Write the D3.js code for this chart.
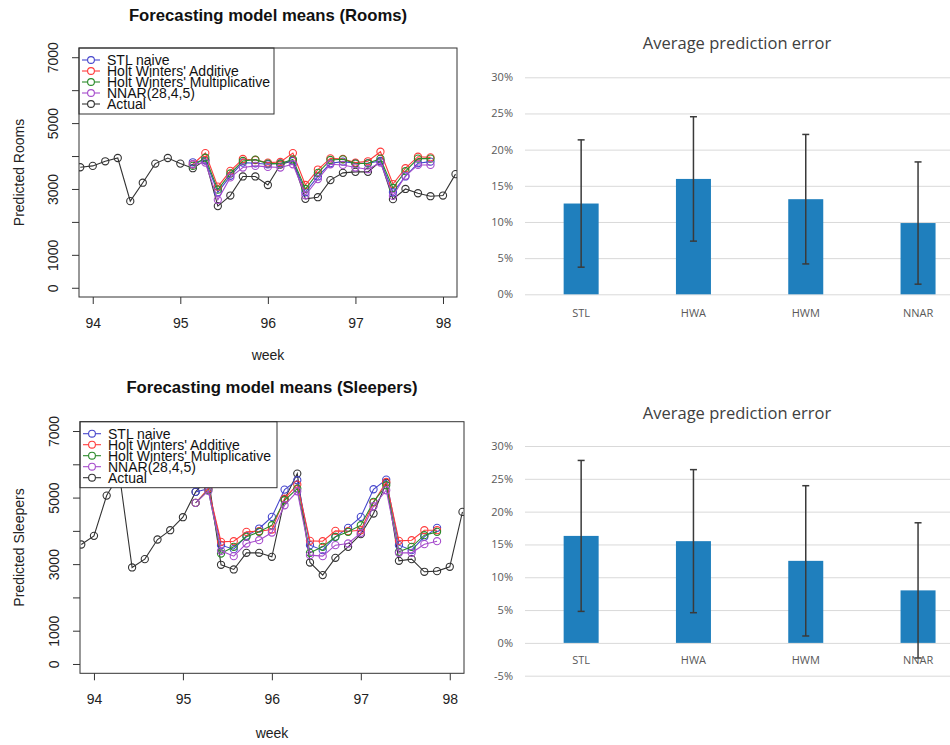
<!DOCTYPE html>
<html><head><meta charset="utf-8">
<script src="https://cdn.jsdelivr.net/npm/d3@7"></script>
<style>body{margin:0;background:#fff} svg{display:block}</style>
</head><body>
<svg id="c" width="950" height="745"></svg>
<script>
// ---------- data ----------
const firstDay = 93 + 6/7;          // week value of first daily observation
const forecastOffset = 9;           // forecasts start at 9th day after first
const weekTicks = [94, 95, 96, 97, 98];
const valueTicks = [0, 1000, 2000, 3000, 4000, 5000, 6000, 7000];
const valueTickLabels = [0, 1000, 3000, 5000, 7000];
const seriesNames = ["STL naive", "Holt Winters' Additive", "Holt Winters' Multiplicative", "NNAR(28,4,5)", "Actual"];

const roomsActual = [3660,3700,3840,3940,2630,3190,3770,3940,3770,3630,3870,2480,2800,3380,3380,3120,3740,3860,2700,2750,3270,3490,3520,3520,3840,2690,3000,2870,2780,2800,3450];
const roomsSTL  = [3810,3870,2900,3400,3800,3780,3750,3780,3850,2900,3380,3780,3830,3780,3780,3850,2900,3380,3780,3830];
const roomsHWA  = [3750,4090,3070,3550,3910,3880,3800,3820,4090,3120,3590,3930,3910,3800,3840,4130,3150,3630,3980,3960];
const roomsHWM  = [3700,3950,2980,3470,3850,3890,3770,3770,3900,3000,3490,3880,3900,3770,3780,3920,3030,3540,3920,3920];
const roomsNNAR = [3750,3800,2670,3350,3650,3700,3670,3650,3750,2810,3300,3750,3730,3650,3600,3800,2790,3400,3730,3730];

const sleepersActual = [3590,3850,5060,5700,2900,3150,3740,4020,4410,5170,5600,2980,2840,3340,3340,3220,4950,5720,3050,2670,3190,3520,3900,4520,5440,3100,3150,2770,2790,2920,4570];
const sleepersSTL  = [5170,5270,3570,3450,3850,4070,4420,5240,5520,3570,3420,3820,4090,4420,5250,5540,3570,3420,3820,4090];
const sleepersHWA  = [4840,5270,3670,3690,3970,3990,4040,4970,5390,3700,3690,4000,3990,4020,4850,5470,3700,3720,4020,4020];
const sleepersHWM  = [4840,5220,3320,3520,3820,3970,4170,4920,5270,3340,3520,3820,3970,4170,4870,5370,3370,3520,3870,3970];
const sleepersNNAR = [4840,5200,3400,3240,3620,3720,3950,4770,5190,3270,3240,3570,3620,3940,4740,5220,3340,3340,3600,3690];

const models = ["STL", "HWA", "HWM", "NNAR"];
const roomsErrMean = [12.55, 15.95, 13.15, 9.85];
const roomsErrSd   = [8.8, 8.6, 8.95, 8.45];
const sleepersErrMean = [16.3, 15.5, 12.5, 8.0];
const sleepersErrSd   = [11.5, 10.9, 11.45, 10.3];
const pctTicksRooms = [0, 5, 10, 15, 20, 25, 30];
const pctTicksSleepers = [-5, 0, 5, 10, 15, 20, 25, 30];

// ---------- styles ----------
const colors = ["#4646cc", "#ff3b3b", "#2a8a2a", "#a64ccc", "#333333"];
const svg = d3.select("#c");
const RFONT = "'Liberation Sans', Arial, sans-serif";
const XFONT = "'Open Sans', 'Noto Sans', sans-serif";

function drawR(cfg) {
  const g = svg.append("g");
  const x = d3.scaleLinear().domain([93.843, 98.16]).range([cfg.left, cfg.right]);
  const y = d3.scaleLinear().domain([-280, 7280]).range([cfg.bottom, cfg.top]);
  const clipId = "clip" + cfg.id;
  svg.append("defs").append("clipPath").attr("id", clipId).append("rect")
    .attr("x", cfg.left).attr("y", cfg.top).attr("width", cfg.right - cfg.left).attr("height", cfg.bottom - cfg.top);

  // title
  g.append("text").attr("x", (cfg.left + cfg.right) / 2 + 0).attr("y", cfg.titleY)
    .attr("text-anchor", "middle").attr("font-family", RFONT).attr("font-weight", "bold")
    .attr("font-size", 16.7).attr("fill", "#111").text(cfg.title);

  // y axis
  const ya = g.append("g").attr("transform", `translate(${cfg.left},0)`)
    .call(d3.axisLeft(y).tickValues(valueTicks).tickSize(7).tickSizeOuter(0)
      .tickFormat(d => valueTickLabels.includes(d) ? String(d) : ""));
  ya.select(".domain").remove();
  ya.selectAll("line").attr("stroke", "#333");
  ya.selectAll("text").attr("transform", "rotate(-90)").attr("x", 0).attr("y", -21).attr("dy", 0)
    .attr("text-anchor", "middle").attr("font-family", RFONT).attr("font-size", 14).attr("fill", "#222");

  // x axis
  const xa = g.append("g").attr("transform", `translate(0,${cfg.bottom})`)
    .call(d3.axisBottom(x).tickValues(weekTicks).tickSize(7).tickPadding(14).tickFormat(d3.format("d")));
  xa.select(".domain").remove();
  xa.selectAll("line").attr("stroke", "#333");
  xa.selectAll("text").attr("font-family", RFONT).attr("font-size", 14).attr("fill", "#222");

  // axis titles
  g.append("text").attr("x", (cfg.left + cfg.right) / 2 + 0).attr("y", cfg.weekY)
    .attr("text-anchor", "middle").attr("font-family", RFONT).attr("font-size", 14).attr("fill", "#222").text("week");
  g.append("text").attr("transform", `translate(24,${(cfg.top + cfg.bottom) / 2}) rotate(-90)`)
    .attr("text-anchor", "middle").attr("font-family", RFONT).attr("font-size", 14).attr("fill", "#222").text(cfg.ylabel);

  // series
  const plot = g.append("g").attr("clip-path", `url(#${clipId})`);
  const line = d3.line().x(d => x(d[0])).y(d => y(d[1]));
  const seriesList = [
    { vals: cfg.actual, off: 0, col: colors[4] },
    { vals: cfg.fc[0], off: forecastOffset, col: colors[0] },
    { vals: cfg.fc[1], off: forecastOffset, col: colors[1] },
    { vals: cfg.fc[2], off: forecastOffset, col: colors[2] },
    { vals: cfg.fc[3], off: forecastOffset, col: colors[3] }
  ];
  seriesList.forEach(s => {
    const pts = s.vals.map((v, i) => [firstDay + (i + s.off) / 7, v]);
    plot.append("path").datum(pts).attr("d", line).attr("fill", "none").attr("stroke", s.col).attr("stroke-width", 1.1);
    plot.selectAll(null).data(pts).enter().append("circle")
      .attr("cx", d => x(d[0])).attr("cy", d => y(d[1])).attr("r", 3.6)
      .attr("fill", "none").attr("stroke", s.col).attr("stroke-width", 1.1);
  });

  // legend
  const lg = g.append("g");
  lg.append("rect").attr("x", cfg.left).attr("y", cfg.top).attr("width", cfg.legW).attr("height", 66)
    .attr("fill", "#fff").attr("stroke", "#333").attr("stroke-width", 1);
  seriesNames.forEach((name, i) => {
    const cy = cfg.top + 12 + i * 11;
    lg.append("line").attr("x1", cfg.left + 3).attr("x2", cfg.left + 21).attr("y1", cy).attr("y2", cy)
      .attr("stroke", colors[i]).attr("stroke-width", 1.1);
    lg.append("circle").attr("cx", cfg.left + 12).attr("cy", cy).attr("r", 3.4)
      .attr("fill", "#fff").attr("stroke", colors[i]).attr("stroke-width", 1.1);
    lg.append("text").attr("x", cfg.left + 28).attr("y", cy + 5).attr("font-family", RFONT)
      .attr("font-size", 14).attr("fill", "#111").text(name);
  });

  // box
  g.append("rect").attr("x", cfg.left).attr("y", cfg.top).attr("width", cfg.right - cfg.left)
    .attr("height", cfg.bottom - cfg.top).attr("fill", "none").attr("stroke", "#333").attr("stroke-width", 1);
}

function drawBars(cfg) {
  const g = svg.append("g");
  const x = d3.scaleBand().domain(models).range([525, 974.2]).padding(0);
  const y = d3.scaleLinear().domain(cfg.domain).range(cfg.range);
  g.append("text").attr("x", 737).attr("y", cfg.titleY).attr("text-anchor", "middle")
    .attr("font-family", XFONT).attr("font-size", 16.5).attr("fill", "#404040").text("Average prediction error");
  const ya = g.append("g").attr("transform", "translate(525,0)")
    .call(d3.axisLeft(y).tickValues(cfg.ticks).tickSize(-430).tickPadding(12).tickFormat(d => d + "%"));
  ya.select(".domain").remove();
  ya.selectAll("line").attr("stroke", "#d9d9d9").attr("stroke-width", 1);
  ya.selectAll("text").attr("font-family", XFONT).attr("font-size", 11).attr("fill", "#595959");
  const bw = 35;
  g.selectAll(null).data(models).enter().append("rect")
    .attr("x", d => x(d) + x.bandwidth() / 2 - bw / 2).attr("width", bw)
    .attr("y", (d, i) => y(cfg.mean[i])).attr("height", (d, i) => y(0) - y(cfg.mean[i]))
    .attr("fill", "#1f7fbd");
  models.forEach((m, i) => {
    const cx = x(m) + x.bandwidth() / 2;
    const hi = y(cfg.mean[i] + cfg.sd[i]), lo = y(cfg.mean[i] - cfg.sd[i]);
    g.append("line").attr("x1", cx).attr("x2", cx).attr("y1", hi).attr("y2", lo).attr("stroke", "#3a3a3a").attr("stroke-width", 1.5);
    [hi, lo].forEach(yy => g.append("line").attr("x1", cx - 3.5).attr("x2", cx + 3.5).attr("y1", yy).attr("y2", yy)
      .attr("stroke", "#3a3a3a").attr("stroke-width", 1.5));
  });
  g.selectAll(null).data(models).enter().append("text")
    .attr("x", d => x(d) + x.bandwidth() / 2).attr("y", cfg.catY).attr("text-anchor", "middle")
    .attr("font-family", XFONT).attr("font-size", 11).attr("fill", "#595959").text(d => d);
}

drawR({ id: 1, left: 79, right: 457, top: 48, bottom: 297, title: "Forecasting model means (Rooms)", titleY: 21,
  ylabel: "Predicted Rooms", weekY: 360, legW: 195,
  actual: roomsActual, fc: [roomsSTL, roomsHWA, roomsHWM, roomsNNAR] });
drawR({ id: 2, left: 80, right: 464, top: 421.7, bottom: 673.3, title: "Forecasting model means (Sleepers)", titleY: 393,
  ylabel: "Predicted Sleepers", weekY: 738, legW: 197,
  actual: sleepersActual, fc: [sleepersSTL, sleepersHWA, sleepersHWM, sleepersNNAR] });

drawBars({ domain: [0, 30], range: [294.3, 77.3], ticks: pctTicksRooms, titleY: 49, catY: 317,
  mean: roomsErrMean, sd: roomsErrSd });
drawBars({ domain: [-5, 30], range: [675.7, 446], ticks: pctTicksSleepers, titleY: 419, catY: 664,
  mean: sleepersErrMean, sd: sleepersErrSd });
</script>
</body></html>
